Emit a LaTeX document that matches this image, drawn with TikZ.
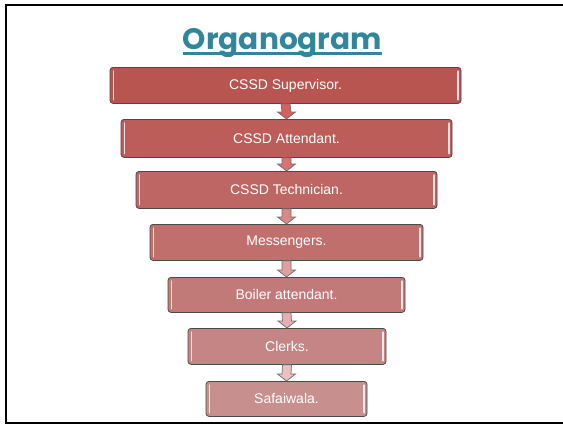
\documentclass[tikz,border=0pt]{standalone}
\usepackage{fontspec}
\setmainfont{Liberation Sans}
\newfontfamily\titlefont{Poppins}
\usetikzlibrary{calc}
\definecolor{titleblue}{HTML}{31859C}
\definecolor{boxline}{HTML}{4A4A4A}
\definecolor{bxa}{HTML}{B95551}
\definecolor{bxb}{HTML}{BC5D5A}
\definecolor{bxc}{HTML}{BE6663}
\definecolor{bxd}{HTML}{C06F6D}
\definecolor{bxe}{HTML}{C27A78}
\definecolor{bxf}{HTML}{C58584}
\definecolor{bxg}{HTML}{C78F8E}
\definecolor{ara}{HTML}{D4605E}
\definecolor{arb}{HTML}{D77472}
\definecolor{arc}{HTML}{D98886}
\definecolor{ard}{HTML}{DFA09F}
\definecolor{are}{HTML}{E5B1B0}
\definecolor{arf}{HTML}{EBC1C0}
\tikzset{
  rolebox/.style={draw=boxline, line width=0.8pt, rounded corners=3pt, text=white,
    font=\fontsize{14}{16}\selectfont, inner sep=0pt, anchor=north},
  blockarr/.style={draw=boxline!80, line width=0.7pt, line join=miter},
}
\newcommand{\roleat}[7]{% name, y top, x left, x right, bottom, colour, text
  \node[rolebox, fill=#6, minimum width=#4pt-#3pt, minimum height=#5pt-#2pt]
    (#1) at ({(#3+#4)/2},-#2) {#7};
  \draw[white!80!#6, line width=1.2pt, line cap=round]
    ($(#1.north west)+(3.5,-4)$) -- ($(#1.south west)+(3.5,4)$)
    ($(#1.north east)+(-3.5,-4)$) -- ($(#1.south east)+(-3.5,4)$);
}
\newcommand{\blockarrow}[3]{% from, to, colour
  \draw[blockarr, fill=#3]
    ($(#1.south)+(-4.5,0)$) -- ($(#1.south)+(4.5,0)$) -- ($(#2.north)+(4.5,7)$)
    -- ($(#2.north)+(9,7)$) -- (#2.north) -- ($(#2.north)+(-9,7)$)
    -- ($(#2.north)+(-4.5,7)$) -- cycle;
}
\begin{document}
\begin{tikzpicture}[x=1pt,y=1pt]
\useasboundingbox (0,0) rectangle (563,-424);
\draw[line width=2pt] (563,-4.5) -- (6,-4.5) -- (6,-422.5) -- (563,-422.5);
% title
\node[anchor=base, text=titleblue, inner sep=0pt] (title) at (282.5,-49)
  {\resizebox{199pt}{!}{\titlefont\bfseries Organogram}};
\draw[titleblue, line width=2.2pt] (183,-53.5) -- (382,-53.5);
% boxes
\roleat{sup}{67}{110}{461}{103}{bxa}{CSSD Supervisor.}
\roleat{att}{119}{121}{452}{157}{bxb}{CSSD Attendant.}
\roleat{tech}{171}{136}{437}{208}{bxc}{CSSD Technician.}
\roleat{mess}{224}{150}{423}{260}{bxd}{Messengers.}
\roleat{boil}{277}{168}{405}{312}{bxe}{Boiler attendant.}
\roleat{clerk}{328}{188}{386}{364}{bxf}{Clerks.}
\roleat{safa}{381}{206}{367}{416}{bxg}{Safaiwala.}
% arrows
\blockarrow{sup}{att}{ara}
\blockarrow{att}{tech}{arb}
\blockarrow{tech}{mess}{arc}
\blockarrow{mess}{boil}{ard}
\blockarrow{boil}{clerk}{are}
\blockarrow{clerk}{safa}{arf}
\end{tikzpicture}
\end{document}
